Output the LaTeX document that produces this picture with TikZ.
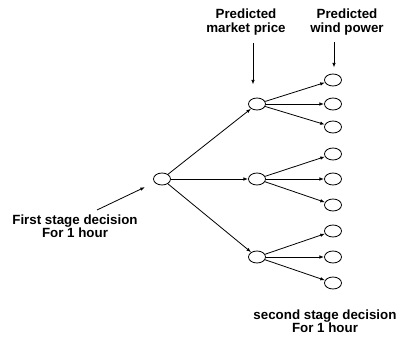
\documentclass[tikz,border=0pt]{standalone}
\usepackage{fontspec}
\setmainfont{Liberation Sans}
\usepackage{tikz}
\usetikzlibrary{positioning,arrows,arrows.meta,shapes}

\tikzset{
	bubble/.style={draw, ellipse, minimum width=12.75pt, minimum height=9pt, inner sep=0pt},
	lbl/.style={font=\bfseries\fontsize{10}{10}\selectfont, align=center, inner sep=0pt},
}

\begin{document}
\begin{tikzpicture}[x=0.75pt,y=-0.75pt,>={Latex[length=3.5pt,width=2.6pt]},line width=0.6pt]
		\useasboundingbox (0,0) rectangle (400,336);

		% first stage
		\node[bubble] (root) at (162,179) {};

		% predicted market price
		\node[bubble] (p1) at (257,104) {};
		\node[bubble] (p2) at (257,179) {};
		\node[bubble] (p3) at (257,257) {};

		% predicted wind power
		\node[bubble] (w1) at (333,80) {};
		\node[bubble] (w2) at (333,104) {};
		\node[bubble] (w3) at (333,127) {};
		\node[bubble] (w4) at (333,154) {};
		\node[bubble] (w5) at (333,179) {};
		\node[bubble] (w6) at (333,205) {};
		\node[bubble] (w7) at (333,231) {};
		\node[bubble] (w8) at (333,257) {};
		\node[bubble] (w9) at (333,283) {};

		\draw[->] (root) -- (p1);
		\draw[->] (root) -- (p2);
		\draw[->] (root) -- (p3);

		\draw[->] (p1) -- (w1);
		\draw[->] (p1) -- (w2);
		\draw[->] (p1) -- (w3);
		\draw[->] (p2) -- (w4);
		\draw[->] (p2) -- (w5);
		\draw[->] (p2) -- (w6);
		\draw[->] (p3) -- (w7);
		\draw[->] (p3) -- (w8);
		\draw[->] (p3) -- (w9);

		% labels
		\node[lbl] (fs) at (75,226) {First stage decision\\For 1 hour};
		\node[lbl] (mp) at (246,22) {Predicted\\market price};
		\node[lbl] (wp) at (347,22) {Predicted\\wind power};
		\node[lbl] (ss) at (325,321) {second stage decision\\For 1 hour};

		\coordinate (fsa) at (97,210);
		\coordinate (mpa) at (253,43);
		\coordinate (wpa) at (334,42);
		\draw[->, shorten >=8pt] (fsa) -- (root);
		\draw[->, shorten >=9.75pt] (mpa) -- (mpa |- p1.north);
		\draw[->, shorten >=4.5pt] (wpa) -- (wpa |- w1.north);
	\end{tikzpicture}
\end{document}
